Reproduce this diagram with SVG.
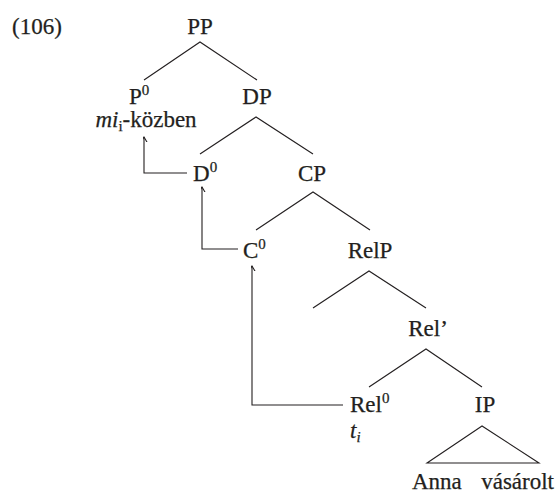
<svg xmlns="http://www.w3.org/2000/svg" width="555" height="494" viewBox="0 0 555 494" font-family="'Liberation Serif', 'Times New Roman', serif" font-size="23">
  <style>
    .lbl { font-family: 'Liberation Serif', 'Times New Roman', serif; font-size: 23px; fill: #231f20; stroke: #231f20; stroke-width: 0.25; }
    .mid { text-anchor: middle; }
    .end { text-anchor: end; }
    .it { font-style: italic; }
    .sup { font-size: 15px; }
    .sub { font-size: 15px; }
    .edge { stroke: #231f20; stroke-width: 1.1; fill: none; }
    .move { stroke: #231f20; stroke-width: 1.1; fill: none; marker-end: url(#head); }
  </style>
  <defs>
    <marker id="head" viewBox="-5 -1 10 8" refX="0" refY="0" markerWidth="10" markerHeight="8" markerUnits="userSpaceOnUse" orient="auto">
      <path d="M-3.5,6 L0,0 L3.5,6" transform="rotate(90)" stroke="#231f20" stroke-width="1.1" fill="none"/>
    </marker>
  </defs>

  <text class="lbl" id="example-number" x="12" y="34">(106)</text>

  <g id="connectors">
    <!-- tree branches -->
    <path class="edge" d="M144,80 L200,42 L257,80"/>
    <path class="edge" d="M200,154 L256,117 L313,154"/>
    <path class="edge" d="M256,230 L313,192 L370,230"/>
    <path class="edge" d="M313,308 L369,271 L426,308"/>
    <path class="edge" d="M369,387 L426,349 L482,387"/>
    <!-- head movement -->
    <path class="move" d="M187,173 H144 V137"/>
    <path class="move" d="M238,249 H202 V187"/>
    <path class="move" d="M343,405 H252 V266"/>
  </g>

  <g id="node-PP"><text class="lbl mid" x="200" y="34">PP</text></g>
  <g id="node-P0">
    <text class="lbl" x="129" y="104">P<tspan class="sup" dy="-9">0</tspan></text>
    <text class="lbl mid" x="146" y="127"><tspan class="it">mi</tspan><tspan class="sub" dy="4">i</tspan><tspan dy="-4">-közben</tspan></text>
  </g>
  <g id="node-DP"><text class="lbl mid" x="257" y="104">DP</text></g>
  <g id="node-D0"><text class="lbl" x="193" y="181">D<tspan class="sup" dy="-9">0</tspan></text></g>
  <g id="node-CP"><text class="lbl mid" x="312" y="181">CP</text></g>
  <g id="node-C0"><text class="lbl" x="243" y="258">C<tspan class="sup" dy="-9">0</tspan></text></g>
  <g id="node-RelP"><text class="lbl mid" x="370" y="258">RelP</text></g>
  <g id="node-RelBar"><text class="lbl mid" x="428" y="336">Rel’</text></g>
  <g id="node-Rel0">
    <text class="lbl" x="350" y="412">Rel<tspan class="sup" dy="-9">0</tspan></text>
    <text class="lbl it" x="350" y="438">t<tspan class="sub" dy="4">i</tspan></text>
  </g>
  <g id="node-IP">
    <text class="lbl mid" x="485" y="412">IP</text>
    <path class="edge" d="M482,426 L427,463 L539,463 Z"/>
    <text class="lbl" x="412" y="489">Anna</text>
    <text class="lbl end" x="554" y="489">vásárolt</text>
  </g>
</svg>
